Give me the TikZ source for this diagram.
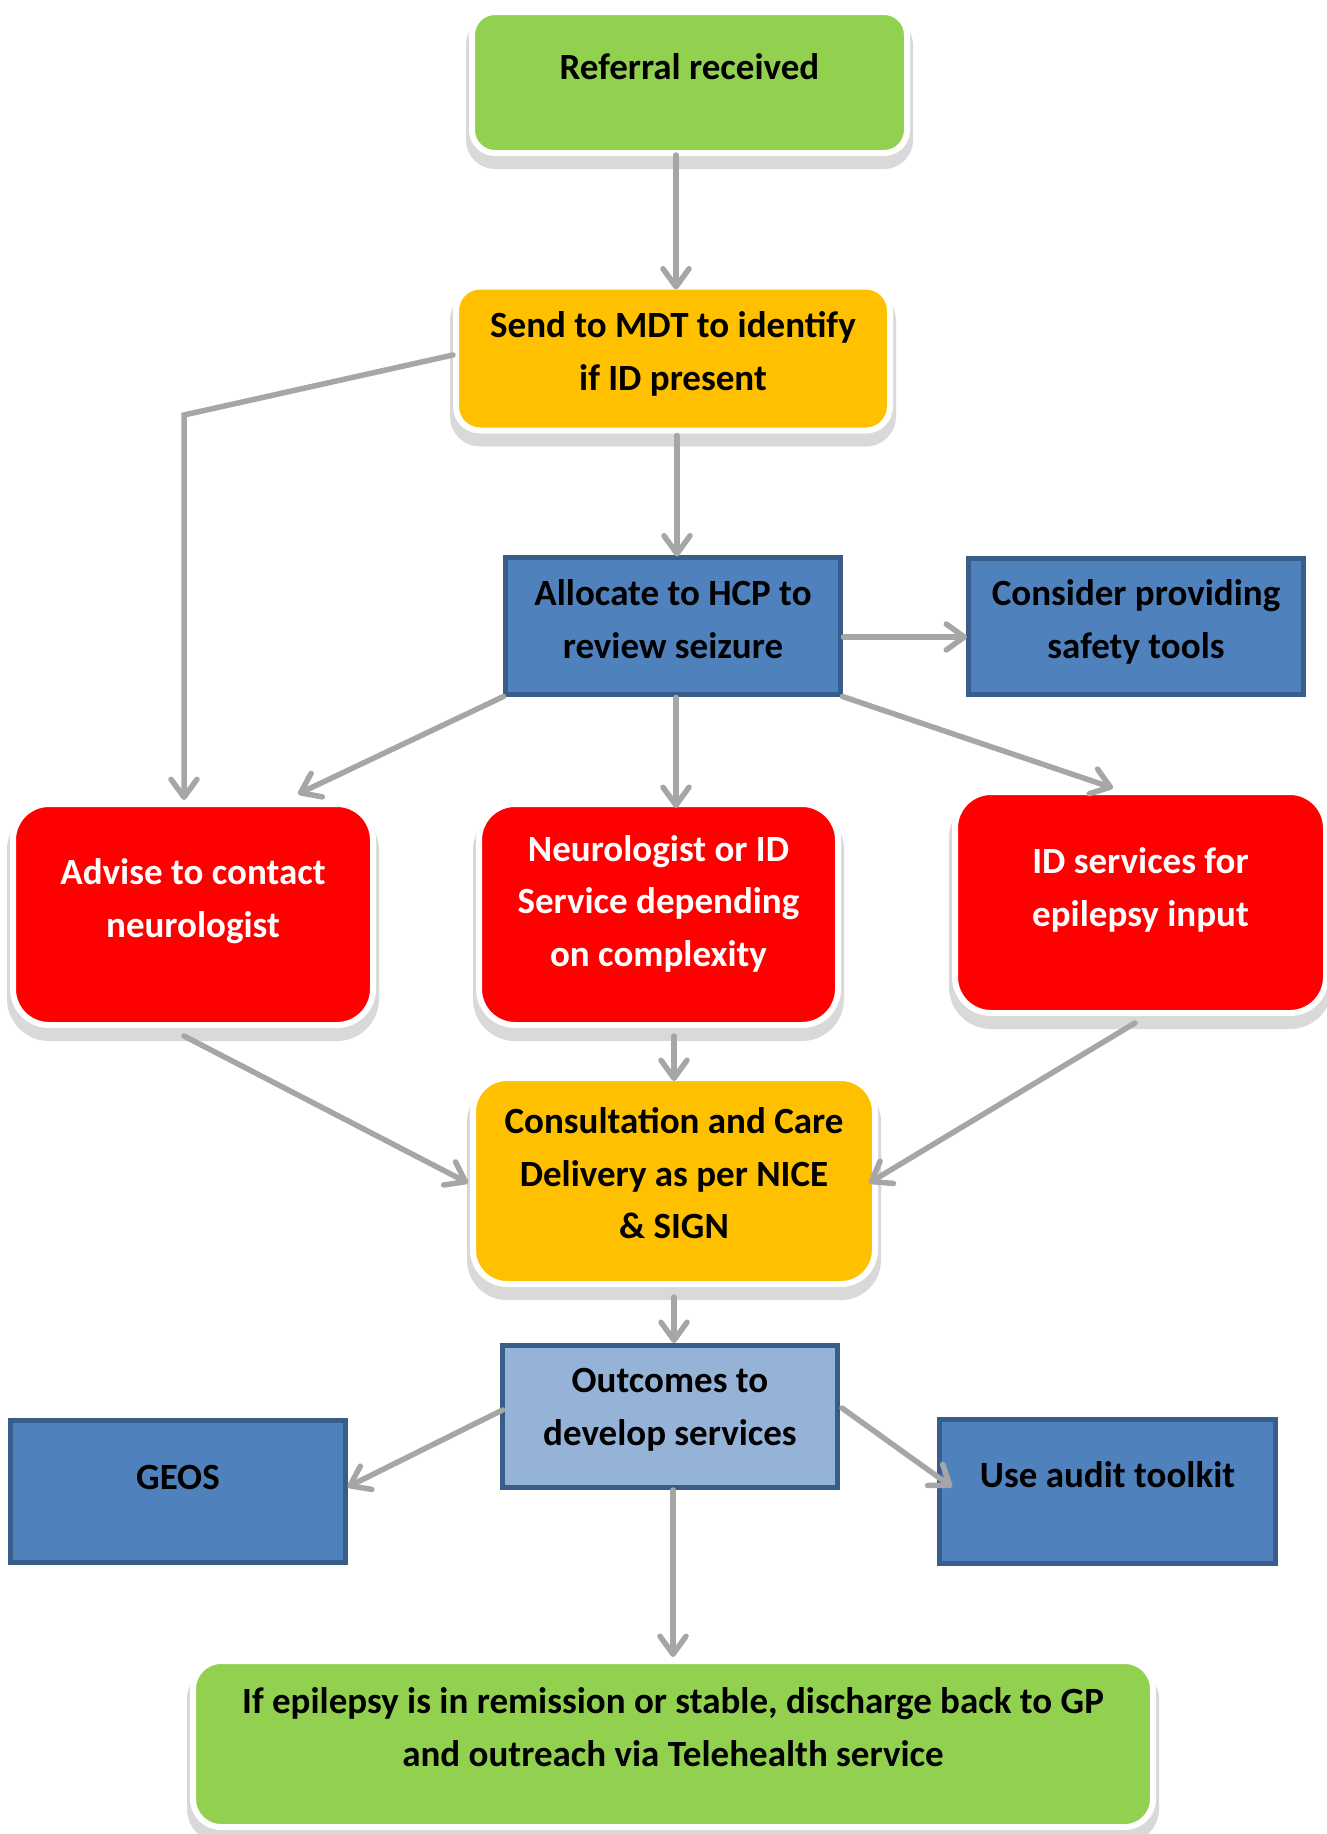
\documentclass[tikz,border=0pt]{standalone}
\usepackage{fontspec}
\setmainfont{Carlito}
\usetikzlibrary{arrows.meta,calc}

\definecolor{leaf}{HTML}{92D050}
\definecolor{amber}{HTML}{FFC000}
\definecolor{alarm}{HTML}{FF0000}
\definecolor{steel}{HTML}{4F81BD}
\definecolor{steeledge}{HTML}{385D8A}
\definecolor{pale}{HTML}{95B3D7}
\definecolor{shade}{HTML}{D9D9D9}
\definecolor{wire}{HTML}{A6A6A6}

\tikzset{
  lbl/.style={font=\bfseries\fontsize{37}{52.5}\selectfont, align=center, inner sep=0pt},
  lblw/.style={lbl, text=white},
  % rounded box with white rim and soft grey drop shadow
  softbox/.style n args={4}{
    minimum width=#1pt, minimum height=#2pt, rounded corners=#3pt,
    inner sep=0pt, outer sep=0pt, fill=#4, draw=white, line width=6pt,
    preaction={fill=shade, draw=shade, line width=12pt, transform canvas={yshift=-10pt}}},
  % plain rectangle with dark blue frame
  flatbox/.style n args={3}{
    minimum width=#1pt, minimum height=#2pt, inner sep=0pt, outer sep=0pt,
    fill=#3, draw=steeledge, line width=5pt},
  flow/.style={draw=wire, line width=5.5pt, line cap=round,
    -{Straight Barb[length=18pt,width=26pt,round]}}
}

\begin{document}
\begin{tikzpicture}[x=1pt,y=-1pt]
\useasboundingbox (0,0) rectangle (1327,1834);

% boxes
\node[softbox={435}{141}{23}{leaf},
  label={[lbl,yshift=15.5pt]center:Referral received}] (ref) at (689.5,82.5) {};
\node[softbox={434}{144}{24}{amber},
  label={[lbl,yshift=4.5pt]center:{Send to MDT to identify\\if ID present}}] (send) at (673,358.5) {};
\node[flatbox={335}{137}{steel},
  label={[lbl,yshift=7pt]center:{Allocate to HCP to\\review seizure}}] (alloc) at (673,626) {};
\node[flatbox={335}{136}{steel},
  label={[lbl,yshift=4.5pt]center:{Consider providing\\safety tools}}] (consider) at (1136,626.5) {};
\node[softbox={360}{221}{36}{alarm},
  label={[lblw,yshift=13.5pt]center:{Advise to contact\\neurologist}}] (advise) at (193,914.5) {};
\node[softbox={359}{221}{36}{alarm},
  label={[lblw,yshift=11pt]center:{Neurologist or ID\\Service depending\\on complexity}}] (neuro) at (658.5,914.5) {};
\node[softbox={371}{221}{36}{alarm},
  label={[lblw,yshift=12.5pt]center:{ID services for\\epilepsy input}}] (idsvc) at (1140.5,902.5) {};
\node[softbox={402}{206}{34}{amber},
  label={[lbl,yshift=7.5pt]center:{Consultation and Care\\Delivery as per NICE\\\& SIGN}}] (consult) at (674,1181) {};
\node[flatbox={335}{142}{pale},
  label={[lbl,yshift=6pt]center:{Outcomes to\\develop services}}] (outcomes) at (670,1416) {};
\node[flatbox={335}{142}{steel},
  label={[lbl,yshift=14.5pt]center:GEOS}] (geos) at (178,1491.5) {};
\node[flatbox={336}{144}{steel},
  label={[lbl,yshift=16.5pt]center:Use audit toolkit}] (audit) at (1107.5,1491.5) {};
\node[softbox={960}{166}{28}{leaf},
  label={[lbl,yshift=17pt]center:{If epilepsy is in remission or stable, discharge back to GP\\and outreach via Telehealth service}}] (gp) at (673,1744) {};

% bend of the side route to the neurologist advice
\coordinate (bend) at (184,415);

% connectors
\draw[flow] ($(ref.south)+(-13.5,2)$) -- ($(send.north)+(3,3)$);
\draw[flow] ($(send.south)+(4,5)$) -- ($(alloc.north)+(4,-1)$);
\draw[flow] ($(send.west)+(-3,-3.5)$) -- (bend) -- ($(advise.north)+(-9,-4)$);
\draw[flow] ($(alloc.east)+(3,11)$) -- ($(consider.west)+(-1.5,10.5)$);
\draw[flow] ($(alloc.south west)+(-2,2)$) -- ($(advise.north east)+(-75,-10)$);
\draw[flow] ($(alloc.south)+(3,3)$) -- ($(neuro.north)+(17.5,4)$);
\draw[flow] ($(alloc.south east)+(2,2)$) -- ($(idsvc.north)+(-27.5,-4)$);
\draw[flow] ($(advise.south)+(-9,11)$) -- ($(consult.west)+(-5,2)$);
\draw[flow] ($(neuro.south)+(15.5,11)$) -- ($(consult.north)+(0,3)$);
\draw[flow] ($(idsvc.south)+(-5.5,10)$) -- ($(consult.east)+(-6,2)$);
\draw[flow] ($(consult.south)+(0,13)$) -- ($(outcomes.north)+(4,-2)$);
\draw[flow] ($(outcomes.west)+(0,-6)$) -- ($(geos.east)+(2,-4.5)$);
\draw[flow] ($(outcomes.east)+(4.5,-8)$) -- ($(audit.west)+(12.5,-4.5)$);
\draw[flow] ($(outcomes.south)+(3,3)$) -- ($(gp.north)+(0,-4)$);
\end{tikzpicture}
\end{document}
